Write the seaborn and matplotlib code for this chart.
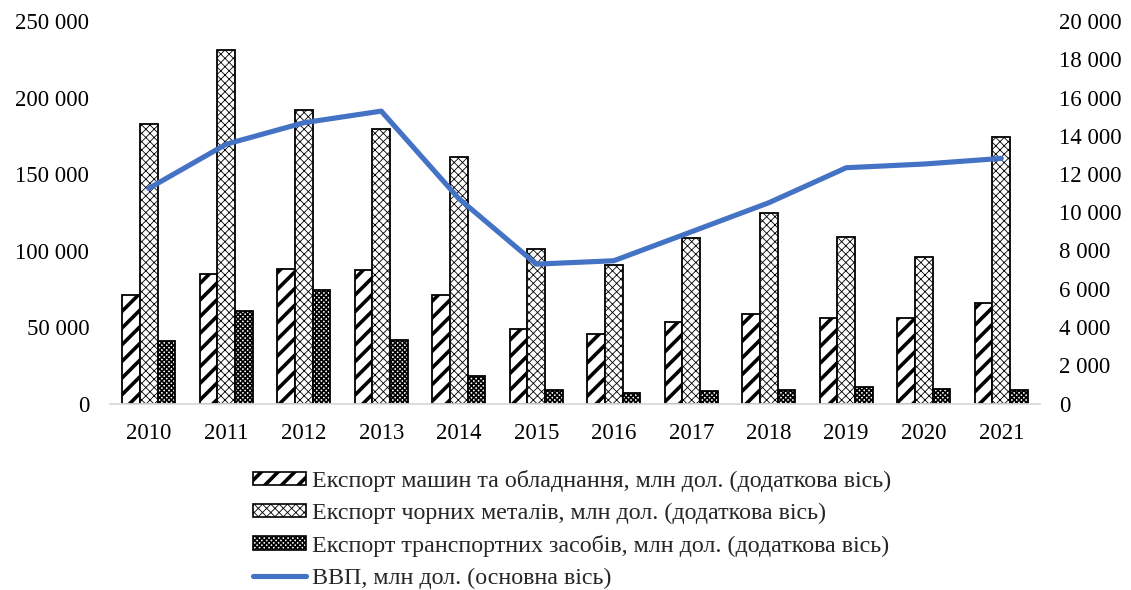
import matplotlib
matplotlib.use('Agg')
import matplotlib.pyplot as plt
import seaborn as sns
import pandas as pd
import numpy as np
from matplotlib.patches import Patch
from matplotlib.lines import Line2D
from matplotlib.ticker import FuncFormatter

years = ['2010', '2011', '2012', '2013', '2014', '2015', '2016', '2017', '2018', '2019', '2020', '2021']
machinery = [5670, 6760, 7040, 6970, 5670, 3920, 3660, 4270, 4660, 4450, 4480, 5260]
ferrous = [14630, 18470, 15340, 14330, 12900, 8070, 7240, 8650, 9940, 8720, 7670, 13950]
transport = [3260, 4840, 5960, 3310, 1440, 680, 560, 630, 680, 850, 750, 680]
gdp = [140600, 169500, 183500, 191100, 134000, 91100, 93300, 112200, 131200, 154100, 156500, 160200]

labels = ['Експорт машин та обладнання, млн дол. (додаткова вісь)',
          'Експорт чорних металів, млн дол. (додаткова вісь)',
          'Експорт транспортних засобів, млн дол. (додаткова вісь)',
          'ВВП, млн дол. (основна вісь)']

sns.set_theme(style='white')
plt.rcParams['font.family'] = ['Liberation Serif', 'DejaVu Serif']
plt.rcParams['hatch.linewidth'] = 1.0
FS = 16.5
LFS = 17.3

fig = plt.figure(figsize=(11.31, 5.90), dpi=100)
L, R, T, B = 110 / 1131, 1040 / 1131, 1 - 21 / 590, 1 - 403.5 / 590
ax = fig.add_axes([L, B, R - L, T - B])

df = pd.DataFrame({
    'year': years * 3,
    'value': machinery + ferrous + transport,
    'series': [labels[0]] * len(years) + [labels[1]] * len(years) + [labels[2]] * len(years),
})
sns.barplot(data=df, x='year', y='value', hue='series', hue_order=labels[:3],
            palette=['white'] * 3, saturation=1, edgecolor='black', linewidth=1.3,
            width=0.68, ax=ax, legend=False, errorbar=None)

hatches = ['//', 'xxxx', 'xxxxxxx']
hlw = [2.6, 0.6, 1.2]
for cont, h, w in zip(ax.containers, hatches, hlw):
    for p in cont:
        p.set_hatch(h)
        if hasattr(p, 'set_hatch_linewidth'):
            p.set_hatch_linewidth(w)

fmt = FuncFormatter(lambda v, pos: f"{int(round(v)):,}".replace(',', ' '))

ax2 = ax.twinx()
sns.lineplot(x=np.arange(len(years)), y=gdp, ax=ax2, color='#4472C4', linewidth=3.7)

# bars axis: ticks on the right
ax.yaxis.tick_right()
ax.yaxis.set_label_position('right')
ax.set_ylim(0, 20000)
ax.set_yticks(np.arange(0, 20001, 2000))
ax.set_yticks(np.arange(0, 20001, 4000), minor=True)
ax.yaxis.set_major_formatter(fmt)
ax.yaxis.set_minor_formatter(FuncFormatter(lambda v, pos: ''))
ax.grid(False)
ax.grid(which='minor', axis='y', color='#d9d9d9', linewidth=1.3)
ax.set_axisbelow(True)
ax.tick_params(axis='y', which='both', length=0, labelsize=FS, pad=14, colors='black')
ax.tick_params(axis='x', length=0, labelsize=FS, pad=14, colors='black')
ax.set_xlabel('')
ax.set_ylabel('')
for s in ['left', 'right', 'top']:
    ax.spines[s].set_visible(False)
ax.spines['bottom'].set_color('#d9d9d9')
ax.spines['bottom'].set_linewidth(1.3)

# line axis: ticks on the left
ax2.yaxis.tick_left()
ax2.yaxis.set_label_position('left')
ax2.set_ylim(0, 250000)
ax2.set_yticks(np.arange(0, 250001, 50000))
ax2.yaxis.set_major_formatter(fmt)
ax2.tick_params(axis='y', length=0, labelsize=FS, pad=15, colors='black')
ax2.set_ylabel('')
for s in ax2.spines.values():
    s.set_visible(False)
ax.set_xlim(-0.5, len(years) - 0.5)

handles = []
for i in range(3):
    p = Patch(facecolor='white', edgecolor='black', hatch=hatches[i], label=labels[i], linewidth=1.2)
    if hasattr(p, 'set_hatch_linewidth'):
        p.set_hatch_linewidth(hlw[i])
    handles.append(p)
handles.append(Line2D([], [], color='#4472C4', linewidth=3.7, label=labels[3]))

leg = fig.legend(handles=handles, loc='upper left', bbox_to_anchor=(253 / 1131, 1 - 470 / 590),
                 frameon=False, fontsize=LFS, handlelength=2.2, handleheight=0.5,
                 handletextpad=0.25, labelspacing=0.45, borderpad=0, borderaxespad=0)
for lh, w in zip(leg.legend_handles[:3], hlw):
    if hasattr(lh, 'set_hatch_linewidth'):
        lh.set_hatch_linewidth(w)

fig.savefig('out.png', dpi=100)
